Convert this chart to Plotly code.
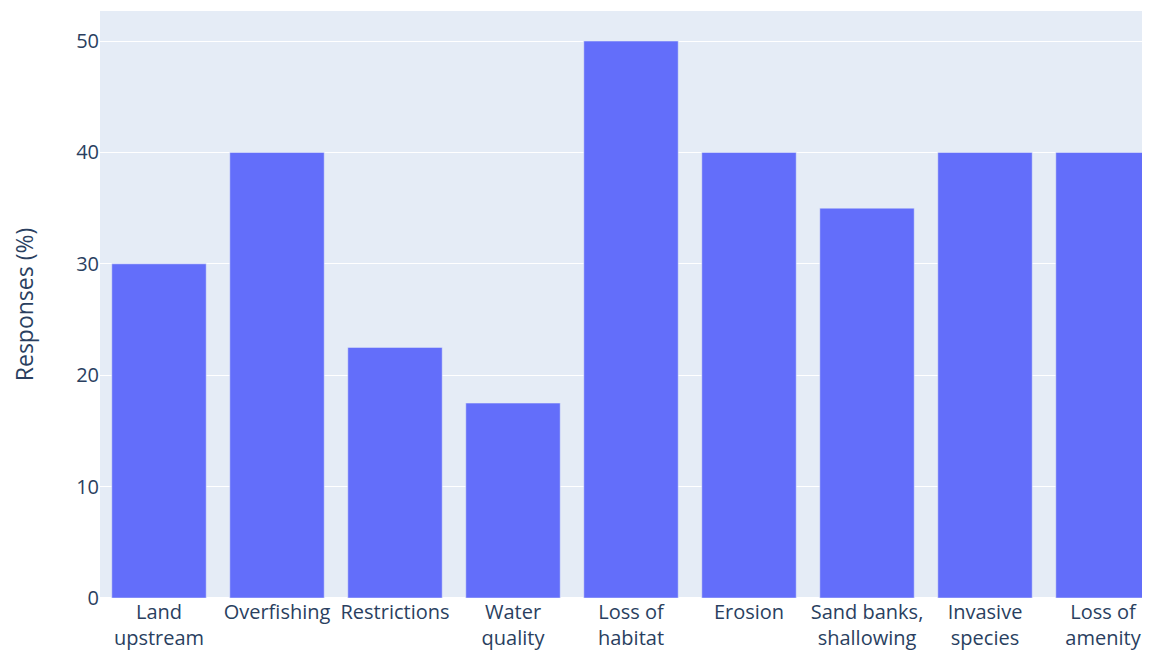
import plotly.graph_objects as go

categories = ["Land<br>upstream", "Overfishing", "Restrictions", "Water<br>quality",
              "Loss of<br>habitat", "Erosion", "Sand banks,<br>shallowing",
              "Invasive<br>species", "Loss of<br>amenity"]
responses = [30, 40, 22.5, 17.5, 50, 40, 35, 40, 40]

fig = go.Figure(go.Bar(x=categories, y=responses, marker_color="#636efa"))
fig.update_layout(
    template="plotly",
    width=1150, height=645,
    margin=dict(l=92, r=0, t=3, b=55),
    font=dict(family="Open Sans", size=20, color="#2a3f5f"),
    bargap=0.2,
    showlegend=False,
)
fig.update_xaxes(range=[-0.5, 8.466], tickfont=dict(size=20))
fig.update_yaxes(title=dict(text="Responses (%)", font=dict(family="Open Sans", size=23, color="#2a3f5f"),
                            standoff=38),
                 range=[0, 52.7], tickfont=dict(size=20))
fig.write_html("out.html")
